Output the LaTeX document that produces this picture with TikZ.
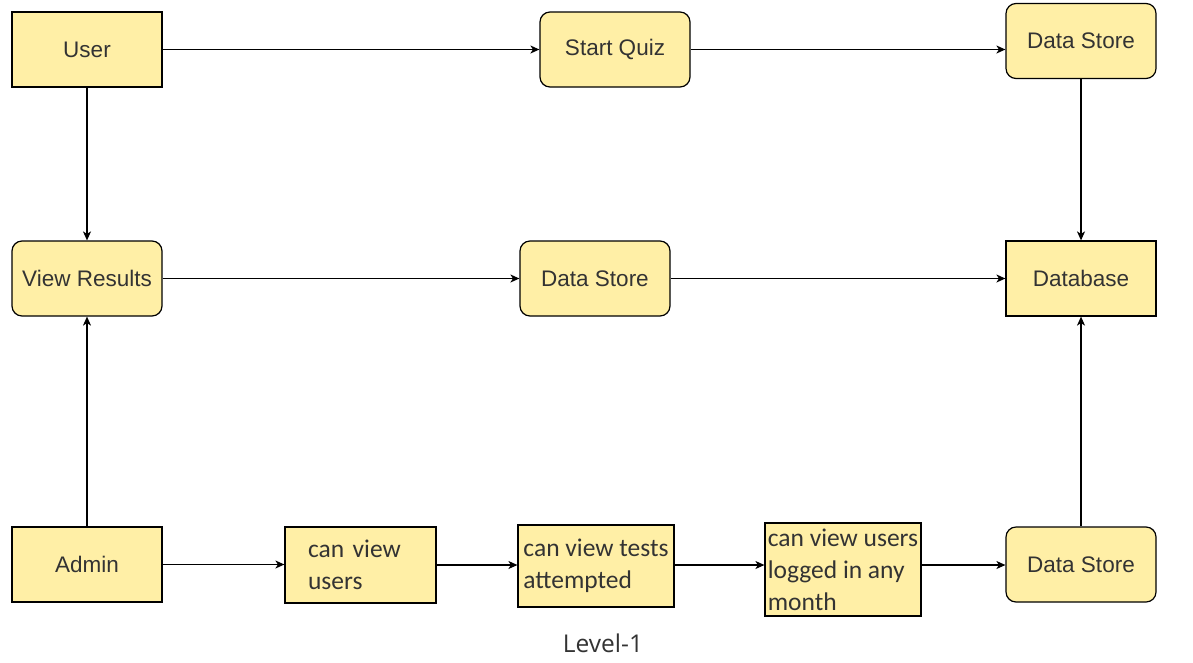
\documentclass[tikz,border=0pt]{standalone}
\usepackage{fontspec}
\setmainfont{Liberation Sans}
\newfontfamily\calib{Carlito}
\newfontfamily\lvlfont{Open Sans}
\usetikzlibrary{arrows.meta}
\definecolor{boxfill}{HTML}{FFEFA6}
\definecolor{txt}{HTML}{333333}
\tikzset{
  base/.style={draw=black, fill=boxfill, line width=1.2pt, text=txt,
    minimum width=150pt, minimum height=75pt, inner sep=0pt,
    font=\fontsize{22.5}{26}\selectfont},
  sqbox/.style={base},
  rbox/.style={base, rounded corners=10pt},
  notebox/.style={draw=black, fill=boxfill, line width=1.2pt, text=txt,
    align=left, inner sep=0pt, font=\calib\fontsize{25.5}{32}\selectfont},
  conn/.style={line width=1.3pt, -{Stealth[length=9pt,width=8pt,inset=2.5pt]}}
}
\begin{document}
\begin{tikzpicture}[x=1pt,y=-1pt]
\useasboundingbox (0,0) rectangle (1193,662);
\node[sqbox] (user) at (87,49.5) {User};
\node[rbox] (quiz) at (615,49.5) {Start Quiz};
\node[rbox] (ds1) at (1081,41) {Data Store};
\node[rbox] (view) at (87,278.5) {View Results};
\node[rbox] (ds2) at (595,278.5) {Data Store};
\node[sqbox] (db) at (1081,278.5) {Database};
\node[sqbox] (admin) at (87,564.5) {Admin};
\node[notebox, minimum width=151pt, minimum height=76pt, text width=105pt, inner xsep=23pt] (n1) at (360.5,565) {can view\\users};
\node[notebox, minimum width=156pt, minimum height=82pt] (n2) at (596,566) {can view tests\\attempted};
\node[notebox, minimum width=156pt, minimum height=93pt] (n3) at (843,569.5) {can view users\\logged in any\\month};
\node[rbox] (ds3) at (1081,564.5) {Data Store};
\node[text=txt, font=\lvlfont\fontsize{24.5}{28}\selectfont] (lvl) at (603,643) {Level-1};

\draw[conn] (user) -- (quiz);
\draw[conn] (quiz.east) -- (quiz.east -| ds1.west);
\draw[conn] (user) -- (view);
\draw[conn] (ds1) -- (db);
\draw[conn] (view) -- (ds2);
\draw[conn] (ds2) -- (db);
\draw[conn] (admin) -- (view);
\draw[conn] (ds3) -- (db);
\draw[conn] (admin) -- (admin -| n1.west);
\draw[conn] (n1.east) -- (n1.east -| n2.west);
\draw[conn] (n2.east |- n1.east) -- (n1.east -| n3.west);
\draw[conn] (n3.east |- n1.east) -- (n1.east -| ds3.west);
\end{tikzpicture}
\end{document}
